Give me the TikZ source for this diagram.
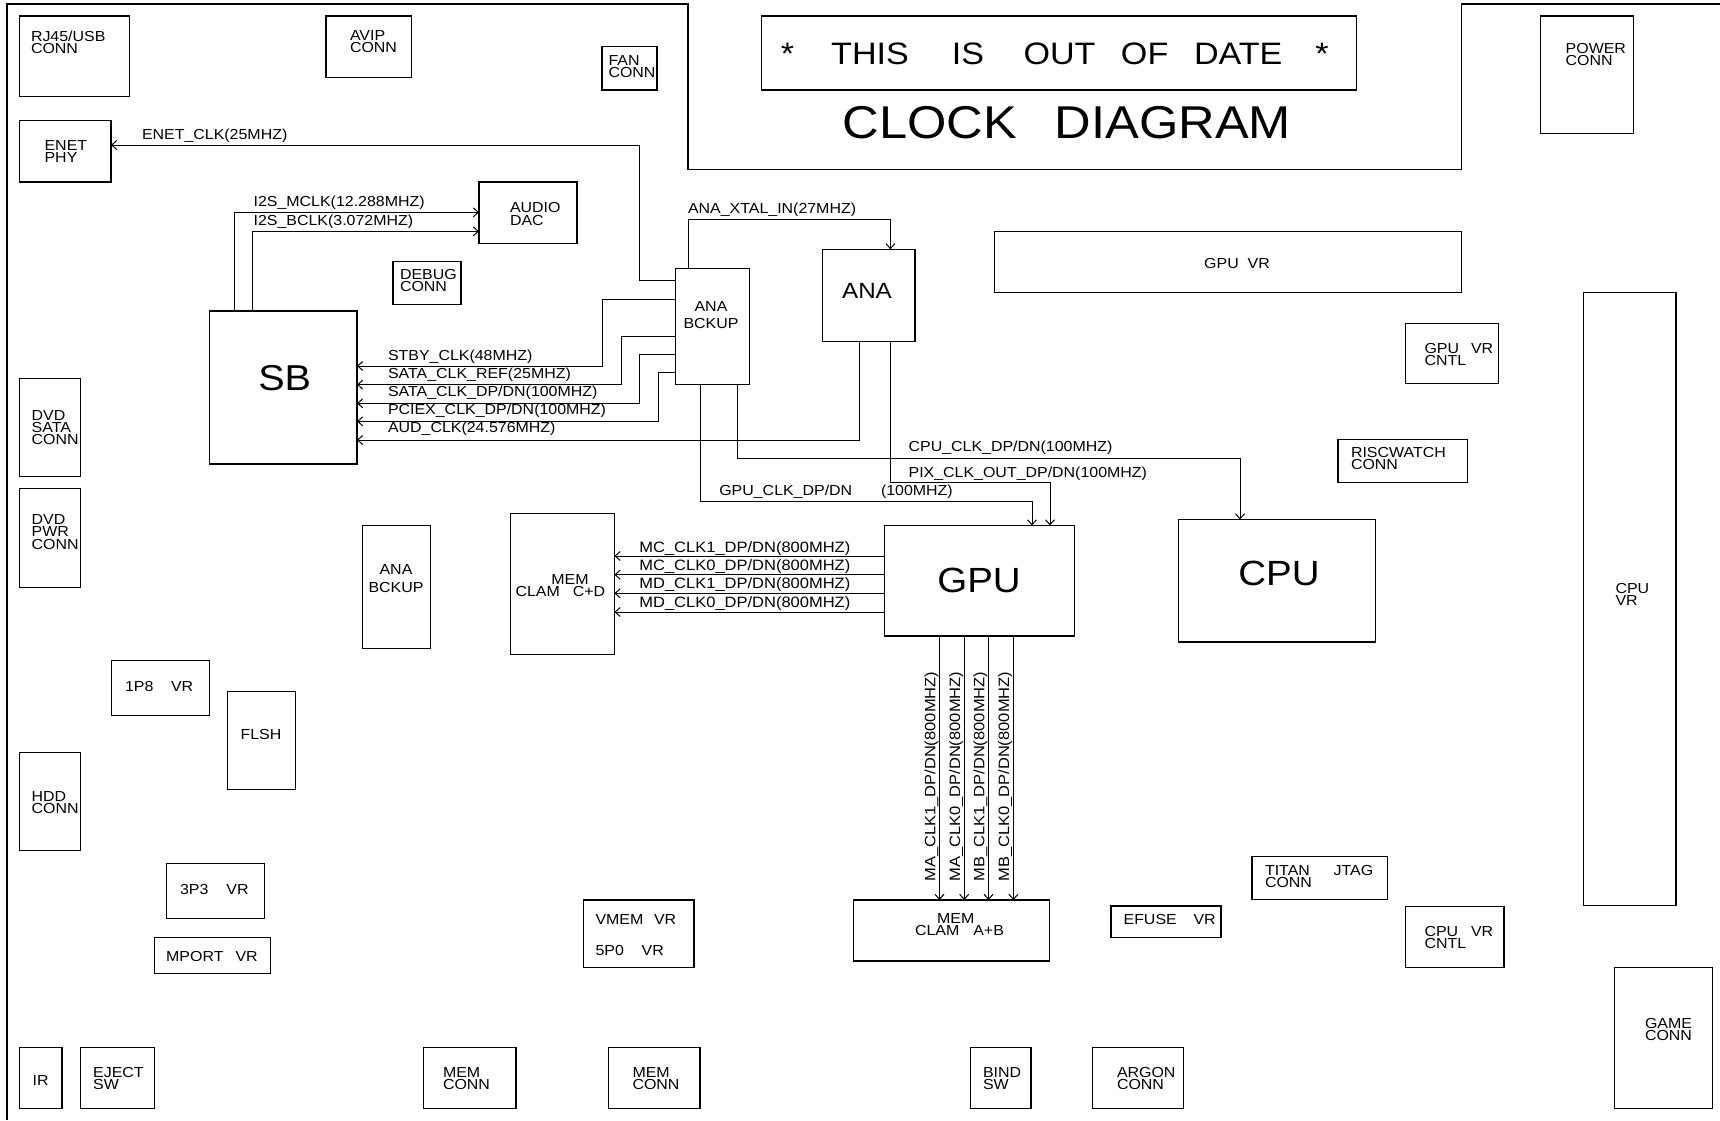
\documentclass[tikz,border=0pt]{standalone}
\usepackage{fontspec}
\setmainfont{Liberation Sans}[FakeStretch=1.1]
\usetikzlibrary{arrows.meta}
\newcommand\fs[1]{\fontsize{#1bp}{#1bp}\selectfont}
\newcommand\bx[5]{\node[box, minimum width={(#4-#2)*1bp}, minimum height={(#5-#3)*1bp}] (#1) at (#2,#3) {};}
\newcommand\lb[4][]{\node[lab,#1] (#2) at (#3) {#4};}
\newcommand\seg[2]{\makebox[#1bp][l]{#2}}
\tikzset{
  box/.style={draw, line width=1.1bp, inner sep=0pt, outer sep=0pt, anchor=north west},
  lab/.style={inner sep=0pt, outer sep=0pt, anchor=base west, font=\fs{14.5}},
  wire/.style={line width=1bp},
  arr/.style={wire, -{Straight Barb[length=5bp,width=9bp]}},
}
\begin{document}
\begin{tikzpicture}[x=1bp,y=-1bp]
\useasboundingbox (0,0) rectangle (1720,1120);
% frame
\draw[line width=1.1bp] (7,1120) -- (7,4) -- (688,4) -- (688,169.3) -- (1461.2,169.3) -- (1461.2,4) -- (1720,4);
% boxes
\bx{rj45}{19.2}{16}{129.5}{96.3}
\bx{avip}{326}{16}{411.6}{77.7}
\bx{fan}{602}{46.7}{657}{90}
\bx{enet}{19.2}{120.7}{111}{182}
\bx{dac}{479}{182}{577}{243.3}
\bx{debug}{393}{261.7}{461}{304.7}
\bx{sb}{209.3}{311}{357}{464}
\bx{anab}{675.7}{268.3}{749.3}{384.3}
\bx{ana}{822.9}{249.3}{915}{341.7}
\bx{title}{761.6}{16}{1356.4}{90}
\bx{power}{1540.7}{16}{1633.3}{133.3}
\bx{gpuvr}{994.3}{231.5}{1461.2}{292.3}
\bx{gpuvrcntl}{1405.6}{323.2}{1498.4}{383.9}
\bx{risc}{1338}{439.7}{1467.5}{482.6}
\bx{cpu}{1178.7}{519.5}{1375.5}{642}
\bx{cpuvr}{1583.5}{292.3}{1676}{905.8}
\bx{gpu}{884.3}{525.5}{1074.3}{636}
\bx{memcd}{510.4}{513.3}{614.4}{654.3}
\bx{anab2}{362.7}{525.3}{430.3}{648.3}
\bx{dvdsata}{19.3}{378.3}{80.7}{476.7}
\bx{dvdpwr}{19.3}{488.3}{80.7}{587.3}
\bx{p1p8}{111.3}{660.7}{209.3}{715.7}
\bx{flsh}{227.7}{691.3}{295.3}{789.3}
\bx{hdd}{19.3}{752.7}{80.7}{850.7}
\bx{p3p3}{166.2}{863.3}{264.5}{918.3}
\bx{mport}{154.3}{937.3}{270.4}{973.3}
\bx{vmem}{583.5}{900}{694}{967.5}
\bx{memab}{853.5}{900}{1049.8}{961}
\bx{efuse}{1111}{906}{1221}{937.3}
\bx{titan}{1252}{856.7}{1387.5}{899.8}
\bx{cpuvrcntl}{1405.6}{906.2}{1504}{967.5}
\bx{game}{1614.5}{967.5}{1712.4}{1108.3}
\bx{ir}{19.3}{1047.3}{62}{1108.3}
\bx{eject}{80.3}{1047.3}{154.3}{1108.3}
\bx{memconn1}{423.8}{1047.3}{516}{1108.3}
\bx{memconn2}{608.4}{1047.3}{700}{1108.3}
\bx{bind}{970.5}{1047.3}{1031}{1108.3}
\bx{argon}{1092.5}{1047.3}{1183.5}{1108.3}
% big texts
\lb[font=\fs{31}]{tood}{780.8,64.5}{\seg{50.4}{*}\seg{120.7}{THIS}\seg{71.6}{IS}\seg{97.5}{OUT}\seg{73}{OF}\seg{121.3}{DATE}*}
\lb[font=\fs{46}]{tclock}{842.5,138.2}{CLOCK\hspace{38bp}DIAGRAM}
\lb[font=\fs{36},anchor=base]{tsb}{284.7,390.2}{SB}
\lb[font=\fs{22},anchor=base]{tana}{867,298.9}{ANA}
\lb[font=\fs{35},anchor=base]{tgpu}{979,592}{GPU}
\lb[font=\fs{35},anchor=base]{tcpu}{1279,585.7}{CPU}
% box labels
\lb{trj1}{31,41.2}{RJ45/USB}
\lb{trj2}{31,53}{CONN}
\lb{tav1}{350,40.2}{AVIP}
\lb{tav2}{350,52.6}{CONN}
\lb{tfan1}{608.5,65.2}{FAN}
\lb{tfan2}{608.5,77}{CONN}
\lb{ten1}{44.6,150.9}{ENET}
\lb{ten2}{44.6,162.9}{PHY}
\lb{tdac1}{510,212.9}{AUDIO}
\lb{tdac2}{510,225.2}{DAC}
\lb{tdbg1}{400,279.5}{DEBUG}
\lb{tdbg2}{400,291.9}{CONN}
\lb{tpw1}{1565.7,53.4}{POWER}
\lb{tpw2}{1565.7,65.4}{CONN}
\lb[anchor=base]{tgpuvr}{1237,268.5}{GPU\ \ VR}
\lb{tgvc1}{1424.5,353.4}{GPU}
\lb{tgvc2}{1471,353.4}{VR}
\lb{tgvc3}{1424.5,365.5}{CNTL}
\lb{trisc1}{1351,457.9}{RISCWATCH}
\lb{trisc2}{1351,469.8}{CONN}
\lb{tcvr1}{1615.5,593.2}{CPU}
\lb{tcvr2}{1615.5,605}{VR}
\lb{tds1}{31.7,420.2}{DVD}
\lb{tds2}{31.7,432}{SATA}
\lb{tds3}{31.7,444.2}{CONN}
\lb{tdp1}{31.7,524.5}{DVD}
\lb{tdp2}{31.7,536.9}{PWR}
\lb{tdp3}{31.7,549.3}{CONN}
\lb{thdd1}{31.7,801.9}{HDD}
\lb{thdd2}{31.7,813.8}{CONN}
\lb[anchor=base]{tab1}{711,311.2}{ANA}
\lb[anchor=base]{tab2}{711,328.5}{BCKUP}
\lb[anchor=base]{tab3}{396,574.2}{ANA}
\lb[anchor=base]{tab4}{396,592.9}{BCKUP}
\lb{tp18a}{125,691.2}{1P8}
\lb{tp18b}{171,691.2}{VR}
\lb[anchor=base]{tflsh}{261,739.5}{FLSH}
\lb{tp33a}{180,894.5}{3P3}
\lb{tp33b}{226.4,894.5}{VR}
\lb{tmp1}{166.2,961.2}{MPORT}
\lb{tmp2}{235.5,961.2}{VR}
\lb{tvm1}{595.5,924.5}{VMEM}
\lb{tvm2}{654,924.5}{VR}
\lb{tvm3}{595.5,955.2}{5P0}
\lb{tvm4}{641.7,955.2}{VR}
\lb[anchor=base]{tmab1}{955.7,923.5}{MEM}
\lb{tmab2}{915,935.7}{CLAM}
\lb{tmab3}{973.3,935.7}{A+B}
\lb[anchor=base]{tmcd1}{570,584}{MEM}
\lb{tmcd2}{515.6,596}{CLAM}
\lb{tmcd3}{572.9,596}{C+D}
\lb{tef1}{1123.6,924.5}{EFUSE}
\lb{tef2}{1193.5,924.5}{VR}
\lb{tti1}{1265,875.2}{TITAN}
\lb{tti2}{1333.6,875.2}{JTAG}
\lb{tti3}{1265,887}{CONN}
\lb{tcvc1}{1424.5,936.9}{CPU}
\lb{tcvc2}{1471,936.9}{VR}
\lb{tcvc3}{1424.5,948.9}{CNTL}
\lb{tgm1}{1645,1028}{GAME}
\lb{tgm2}{1645,1040}{CONN}
\lb[anchor=base]{tir}{40.6,1085.2}{IR}
\lb{tej1}{93.2,1077}{EJECT}
\lb{tej2}{93.2,1089}{SW}
\lb{tmc1}{443,1077}{MEM}
\lb{tmc2}{443,1089}{CONN}
\lb{tmc3}{632.5,1077}{MEM}
\lb{tmc4}{632.5,1089}{CONN}
\lb{tbd1}{983,1077}{BIND}
\lb{tbd2}{983,1089}{SW}
\lb{targ1}{1117,1077}{ARGON}
\lb{targ2}{1117,1089}{CONN}
% connectors
\draw[arr] (anab.west |- 0,280) -- (639,280) -- (639,145) -- (enet.east |- 0,145);
\draw[arr] (sb.north -| 234,0) -- (234,212.3) -- (dac.west |- 0,212.3);
\draw[arr] (sb.north -| 252.7,0) -- (252.7,231.3) -- (dac.west |- 0,231.3);
\draw[arr] (anab.north -| 688,0) -- (688,219) -- (890.4,219) -- (ana.north -| 890.4,0);
\draw[arr] (anab.west |- 0,299.3) -- (602.5,299.3) -- (602.5,366) -- (sb.east |- 0,366);
\draw[arr] (anab.west |- 0,336) -- (621,336) -- (621,384.7) -- (sb.east |- 0,384.7);
\draw[arr] (anab.west |- 0,354) -- (639.5,354) -- (639.5,403.3) -- (sb.east |- 0,403.3);
\draw[arr] (anab.west |- 0,372.7) -- (658,372.7) -- (658,421.3) -- (sb.east |- 0,421.3);
\draw[arr] (ana.south -| 859.6,0) -- (859.6,440) -- (sb.east |- 0,440);
\draw[arr] (ana.south -| 890.4,0) -- (890.4,482.5) -- (1050,482.5) -- (gpu.north -| 1050,0);
\draw[arr] (anab.south -| 737,0) -- (737,458) -- (1240,458) -- (cpu.north -| 1240,0);
\draw[arr] (anab.south -| 700.7,0) -- (700.7,501) -- (1032,501) -- (gpu.north -| 1032,0);
\draw[arr] (gpu.west |- 0,556) -- (memcd.east |- 0,556);
\draw[arr] (gpu.west |- 0,574.7) -- (memcd.east |- 0,574.7);
\draw[arr] (gpu.west |- 0,593.3) -- (memcd.east |- 0,593.3);
\draw[arr] (gpu.west |- 0,612) -- (memcd.east |- 0,612);
\draw[arr] (gpu.south -| 939.5,0) -- (memab.north -| 939.5,0);
\draw[arr] (gpu.south -| 964.2,0) -- (memab.north -| 964.2,0);
\draw[arr] (gpu.south -| 988.5,0) -- (memab.north -| 988.5,0);
\draw[arr] (gpu.south -| 1013.4,0) -- (memab.north -| 1013.4,0);
% connector labels
\lb{lenet}{142,139.2}{ENET\_CLK(25MHZ)}
\lb{li2sm}{253.6,206.2}{I2S\_MCLK(12.288MHZ)}
\lb{li2sb}{253.6,225.2}{I2S\_BCLK(3.072MHZ)}
\lb{lxtal}{688,213.5}{ANA\_XTAL\_IN(27MHZ)}
\lb{lstby}{388,360.5}{STBY\_CLK(48MHZ)}
\lb{lsref}{388,378.5}{SATA\_CLK\_REF(25MHZ)}
\lb{lsdp}{388,396.9}{SATA\_CLK\_DP/DN(100MHZ)}
\lb{lpciex}{388,414.5}{PCIEX\_CLK\_DP/DN(100MHZ)}
\lb{laud}{388,432.5}{AUD\_CLK(24.576MHZ)}
\lb{lcpu}{908.6,451.9}{CPU\_CLK\_DP/DN(100MHZ)}
\lb{lpix}{908.6,477.5}{PIX\_CLK\_OUT\_DP/DN(100MHZ)}
\lb{lgpu}{719.3,495.2}{GPU\_CLK\_DP/DN}
\lb{lgpu2}{881,495.2}{(100MHZ)}
\lb[font=\fs{15}]{lmc1}{639.4,552.1}{MC\_CLK1\_DP/DN(800MHZ)}
\lb[font=\fs{15}]{lmc0}{639.4,570.4}{MC\_CLK0\_DP/DN(800MHZ)}
\lb[font=\fs{15}]{lmd1}{639.4,588.7}{MD\_CLK1\_DP/DN(800MHZ)}
\lb[font=\fs{15}]{lmd0}{639.4,607.1}{MD\_CLK0\_DP/DN(800MHZ)}
\lb[font=\fs{15},rotate=90]{lma1}{935.3,881.7}{MA\_CLK1\_DP/DN(800MHZ)}
\lb[font=\fs{15},rotate=90]{lma0}{960,881.7}{MA\_CLK0\_DP/DN(800MHZ)}
\lb[font=\fs{15},rotate=90]{lmb1}{984.3,881.7}{MB\_CLK1\_DP/DN(800MHZ)}
\lb[font=\fs{15},rotate=90]{lmb0}{1009.2,881.7}{MB\_CLK0\_DP/DN(800MHZ)}
\end{tikzpicture}
\end{document}
